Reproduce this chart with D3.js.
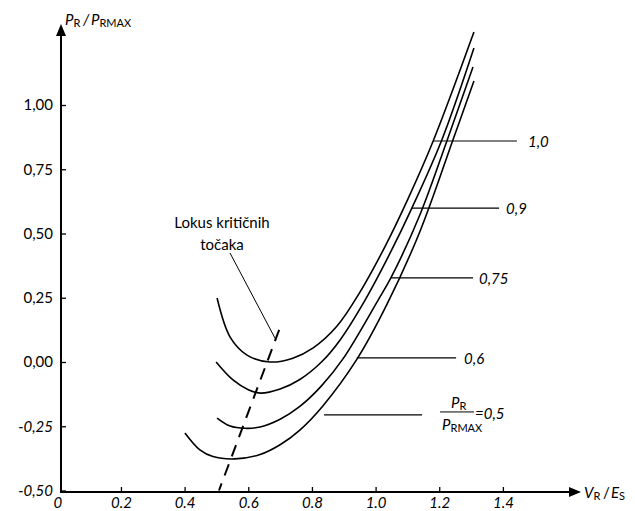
<!DOCTYPE html>
<html><head><meta charset="utf-8">
<script src="https://cdn.jsdelivr.net/npm/d3@7"></script>
<style>
body{margin:0;background:#fff}
text{font-family:Lato,'Open Sans',sans-serif;fill:#000}
</style>
</head><body>
<svg id="chart" width="635" height="511"></svg>
<script>
// ---- data ----
const xTicks = [0, 0.2, 0.4, 0.6, 0.8, 1.0, 1.2, 1.4];
const xTickLabels = ["0", "0.2", "0.4", "0.6", "0.8", "1.0", "1.2", "1.4"];
const yTicks = [1.0, 0.75, 0.5, 0.25, 0, -0.25, -0.5];
const yTickLabels = ["1,00", "0,75", "0,50", "0,25", "0,00", "-0,25", "-0,50"];
const curveLabels = ["1,0", "0,9", "0,75", "0,6", "=0,5"];

const curve10 = [[0.502,0.249],[0.543,0.097],[0.596,0.027],[0.668,0.0],[0.740,0.015],[0.804,0.055],[0.879,0.140],[0.950,0.27],[1.030,0.45],[1.100,0.63],[1.181,0.860],[1.309,1.284]];
const curve09 = [[0.499,0.0],[0.552,-0.070],[0.600,-0.108],[0.637,-0.121],[0.700,-0.105],[0.762,-0.068],[0.830,0.0],[0.888,0.085],[0.967,0.241],[1.040,0.41],[1.114,0.599],[1.208,0.864],[1.309,1.222]];
const curve075 = [[0.502,-0.218],[0.543,-0.249],[0.590,-0.258],[0.637,-0.253],[0.700,-0.223],[0.762,-0.173],[0.830,-0.093],[0.898,0.013],[1.008,0.241],[1.048,0.327],[1.140,0.575],[1.224,0.860],[1.306,1.148]];
const curve06 = [[0.401,-0.276],[0.448,-0.342],[0.489,-0.368],[0.558,-0.377],[0.637,-0.360],[0.700,-0.322],[0.762,-0.265],[0.835,-0.170],[0.941,0.010],[1.036,0.225],[1.140,0.51],[1.243,0.864],[1.309,1.093]];
const locus = [[0.697,0.125],[0.508,-0.5]];

// ---- layout ----
const svg = d3.select("#chart");
const x = d3.scaleLinear().domain([0, 1.4]).range([57.3, 502.9]);
const y = d3.scaleLinear().domain([-0.5, 1.0]).range([490.5, 105]);
const axisX = 61, axisY = 492;

const line = d3.line().x(d => x(d[0])).y(d => y(d[1])).curve(d3.curveCatmullRom.alpha(0.5));

// curves
[curve10, curve09, curve075, curve06].forEach(c => {
  svg.append("path").attr("d", line(c)).attr("fill", "none")
    .attr("stroke", "#000").attr("stroke-width", 1.6);
});

// locus dashed line
svg.append("path").attr("d", d3.line().x(d => x(d[0])).y(d => y(d[1]))(locus))
  .attr("fill", "none").attr("stroke", "#000").attr("stroke-width", 2)
  .attr("stroke-dasharray", "12,8.5");

// x axis
const gx = svg.append("g").attr("transform", `translate(0,${axisY})`)
  .call(d3.axisBottom(x).tickValues(xTicks).tickFormat((d, i) => xTickLabels[i])
    .tickSizeInner(-5).tickSizeOuter(0).tickPadding(5));
gx.select(".domain").remove();
gx.selectAll(".tick line").attr("stroke", "#000").attr("stroke-width", 1.3)
  .filter(d => d === 0).remove();
gx.selectAll(".tick text").attr("font-size", 15).attr("font-style", "italic")
  .attr("font-family", "Lato,'Open Sans',sans-serif");

// y axis
const gy = svg.append("g").attr("transform", `translate(${axisX},0)`)
  .call(d3.axisLeft(y).tickValues(yTicks).tickFormat((d, i) => yTickLabels[i])
    .tickSizeInner(-5).tickSizeOuter(0).tickPadding(8));
gy.select(".domain").remove();
gy.selectAll(".tick line").attr("stroke", "#000").attr("stroke-width", 1.3);
gy.selectAll(".tick text").attr("font-size", 15)
  .attr("font-family", "Lato,'Open Sans',sans-serif")
  .attr("font-style", d => d < 0 ? "italic" : "normal");

// axis lines with arrows
svg.append("line").attr("x1", axisX).attr("y1", axisY + 1).attr("x2", axisX).attr("y2", 34)
  .attr("stroke", "#000").attr("stroke-width", 2);
svg.append("path").attr("d", `M${axisX},24 L${axisX - 5},36 L${axisX + 5},36 Z`).attr("fill", "#000");
svg.append("line").attr("x1", axisX - 1).attr("y1", axisY).attr("x2", 572).attr("y2", axisY)
  .attr("stroke", "#000").attr("stroke-width", 2);
svg.append("path").attr("d", `M581,${axisY} L569,${axisY - 5} L569,${axisY + 5} Z`).attr("fill", "#000");

// axis titles
function sub(g, px, py, main, s, italicMain) {
  const t = g.append("text").attr("x", px).attr("y", py).attr("font-size", 15);
  t.append("tspan").attr("font-style", italicMain ? "italic" : "normal").text(main);
  t.append("tspan").attr("font-size", 11).attr("dy", 2).text(s);
  return t;
}
sub(svg, 65, 25, "P", "R", true);
svg.append("text").attr("x", 83).attr("y", 25).attr("font-size", 15).attr("font-style", "italic").text("/");
sub(svg, 91, 25, "P", "RMAX", true);

sub(svg, 584, 498, "V", "R", true);
svg.append("text").attr("x", 603).attr("y", 498).attr("font-size", 15).text("/");
sub(svg, 611, 498, "E", "S", true);

// locus annotation
svg.append("text").attr("x", 222).attr("y", 228).attr("text-anchor", "middle").attr("font-size", 15).text("Lokus kritičnih");
svg.append("text").attr("x", 222).attr("y", 250).attr("text-anchor", "middle").attr("font-size", 15).text("točaka");
svg.append("line").attr("x1", 230).attr("y1", 253).attr("x2", 276).attr("y2", 340)
  .attr("stroke", "#000").attr("stroke-width", 1);

// curve labels with leader lines (data coords)
const leaders = [
  {y: 0.860, x1: 1.181, x2: 1.444, tx: 1.479},
  {y: 0.599, x1: 1.114, x2: 1.388, tx: 1.410},
  {y: 0.327, x1: 1.048, x2: 1.306, tx: 1.325},
  {y: 0.016, x1: 0.941, x2: 1.253, tx: 1.278},
  {y: -0.206, x1: 0.838, x2: 1.146, tx: 1.310}
];
leaders.forEach((l, i) => {
  svg.append("line").attr("x1", x(l.x1)).attr("x2", x(l.x2)).attr("y1", y(l.y)).attr("y2", y(l.y))
    .attr("stroke", "#000").attr("stroke-width", 1.2);
  if (i < 4) {
    svg.append("text").attr("x", x(l.tx)).attr("y", y(l.y) + 6).attr("font-size", 15)
      .attr("font-style", "italic").text(curveLabels[i]);
  }
});
// fraction label for 0,5
const fl = leaders[4];
const fx = x(fl.x2) + 18, fy = y(fl.y) - 3;
sub(svg, fx + 11, fy - 4, "P", "R", true);
svg.append("line").attr("x1", fx).attr("x2", fx + 34).attr("y1", fy).attr("y2", fy)
  .attr("stroke", "#000").attr("stroke-width", 1);
sub(svg, fx + 2, fy + 18, "P", "RMAX", true);
svg.append("text").attr("x", fx + 35).attr("y", fy + 7).attr("font-size", 15)
  .attr("font-style", "italic").text(curveLabels[4]);
</script>
</body></html>
